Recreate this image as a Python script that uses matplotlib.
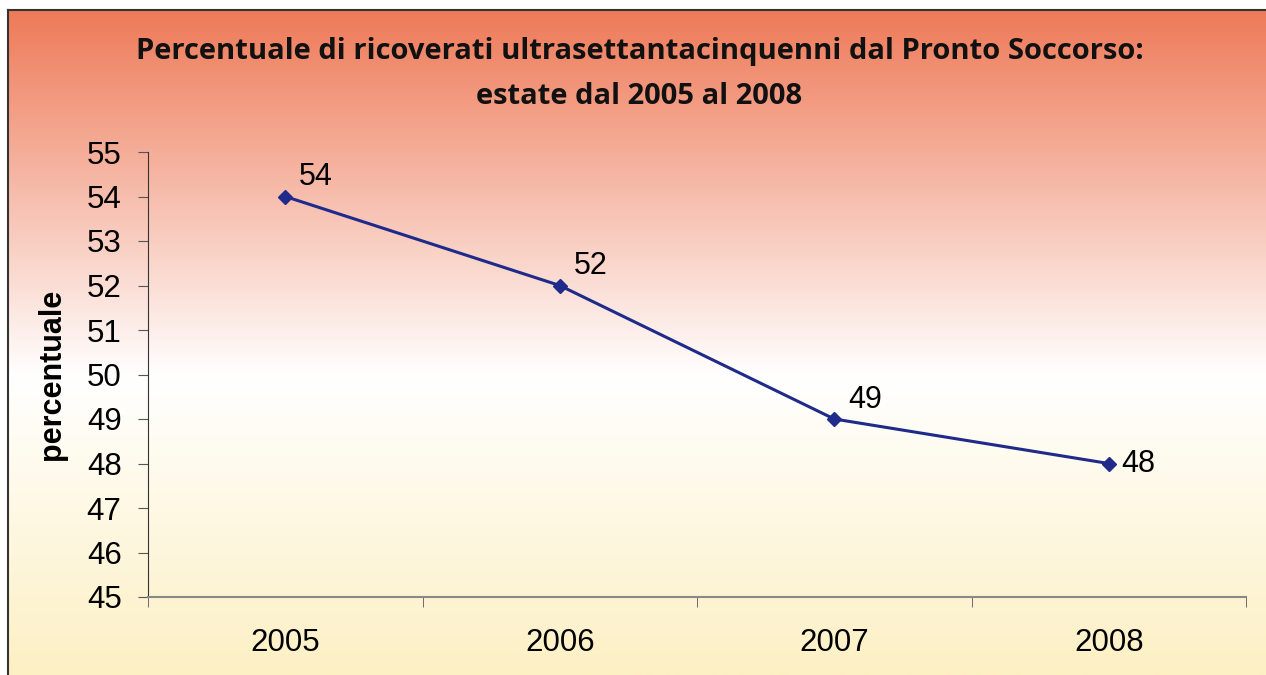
import numpy as np
import matplotlib
matplotlib.use('Agg')
from matplotlib import pyplot as plt
from matplotlib.colors import LinearSegmentedColormap

# dati
anni = ['2005', '2006', '2007', '2008']
percentuali = [54, 52, 49, 48]

W, H = 1266, 675
fig = plt.figure(figsize=(W / 100, H / 100), dpi=100)

# sfondo sfumato (arancio in alto, bianco al centro, giallo chiaro in basso)
bg = fig.add_axes([8 / W, 0, 1 - 8 / W, 1 - 10 / H], zorder=0)
cmap = LinearSegmentedColormap.from_list(
    'sfondo', [(0.0, '#fdf0c4'), (0.45, '#ffffff'), (1.0, '#ee7a58')])
grad = np.linspace(0, 1, 256).reshape(-1, 1)
bg.imshow(grad, aspect='auto', cmap=cmap, origin='lower', extent=[0, 1, 0, 1])
bg.set_xticks([])
bg.set_yticks([])
for s in ['right', 'bottom']:
    bg.spines[s].set_visible(False)
for s in ['left', 'top']:
    bg.spines[s].set_color('#333333')
    bg.spines[s].set_linewidth(1.5)

# grafico
ax = fig.add_axes([148 / W, 1 - 597 / H, (1246 - 148) / W, (597 - 152) / H], zorder=1)
ax.patch.set_alpha(0)
x = np.arange(len(anni))
ax.plot(x, percentuali, color='#1f2a8a', linewidth=2.2, marker='D', markersize=7.5)
for xi, v in zip(x, percentuali):
    if xi == len(anni) - 1:
        ax.annotate(str(v), (xi, v), xytext=(9, 0), textcoords='offset points',
                    ha='left', va='center', fontsize=22, family='Liberation Sans')
    else:
        ax.annotate(str(v), (xi, v), xytext=(10, 3), textcoords='offset points',
                    ha='left', va='bottom', fontsize=22, family='Liberation Sans')

ax.set_xlim(-0.5, len(anni) - 0.5)
ax.set_ylim(45, 55)
ax.set_yticks(range(45, 56))
ax.set_xticks(x)
ax.set_xticklabels(anni)
ax.set_xticks(np.arange(-0.5, len(anni)), minor=True)
ax.tick_params(axis='x', which='major', length=0, pad=22)
ax.tick_params(axis='x', which='minor', length=7, color='#555555')
ax.tick_params(axis='y', length=7, color='#555555', pad=12)
for lab in ax.get_xticklabels() + ax.get_yticklabels():
    lab.set_fontsize(22.5)
    lab.set_family('Liberation Sans')
for s in ['right', 'top']:
    ax.spines[s].set_visible(False)
ax.spines['left'].set_color('#333333')
ax.spines['bottom'].set_color('#888888')
ax.spines['bottom'].set_linewidth(1.5)

ax.set_ylabel('percentuale', fontsize=22, fontweight='bold', family='Liberation Sans', labelpad=14)

fig.text(0.505, 1 - 52 / H, 'Percentuale di ricoverati ultrasettantacinquenni dal Pronto Soccorso:',
         ha='center', va='center', fontsize=21, fontweight='bold', family='Open Sans', color='#111111')
fig.text(0.505, 1 - 97 / H, 'estate dal 2005 al 2008',
         ha='center', va='center', fontsize=21, fontweight='bold', family='Open Sans', color='#111111')

fig.savefig('out.png', dpi=100)
